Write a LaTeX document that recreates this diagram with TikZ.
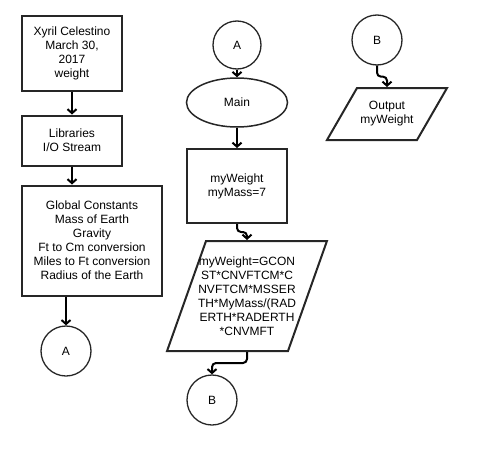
\documentclass[tikz,border=0pt]{standalone}
\usepackage{fontspec}
\setmainfont{Liberation Sans}
\usetikzlibrary{shapes.geometric}
\usetikzlibrary{arrows.meta}
\tikzset{
    procbox/.style = {rectangle, line width=2pt, draw=black!85, inner sep=0pt, align=center},
    conn/.style = {circle, line width=1.3pt, draw=black!85, inner sep=0pt, minimum size=50pt},
    termnode/.style = {ellipse, line width=1.5pt, draw=black!85, inner sep=0pt, minimum width=101pt, minimum height=49pt},
    iobox/.style = {trapezium, line width=2pt, draw=black!85, inner sep=0pt, text depth=0pt},
    edgen/.style = {-{Straight Barb[length=4pt,width=9pt]}, line width=2pt},
    edgew/.style = {edgen, rounded corners=4pt}, % wiggly connector
    txt/.style = {align=center, font=\fontsize{12}{14}\selectfont}
}
\begin{document}
\begin{tikzpicture}[x=1pt, y=-1pt, font=\fontsize{12}{14}\selectfont]
  \useasboundingbox (0,0) rectangle (501,450);

  % left column
  \node[procbox, minimum width=100pt, minimum height=75pt] at (72,53) (hdr)
    {Xyril Celestino\\March 30,\\2017\\weight};
  \node[procbox, minimum width=100pt, minimum height=50pt] at (72,140.5) (libs)
    {Libraries\\I/O Stream};
  \node[procbox, minimum width=140pt, minimum height=110pt] at (92,240.5) (globals)
    {Global Constants\\Mass of Earth\\Gravity\\Ft to Cm conversion\\Miles to Ft conversion\\Radius of the Earth};
  \node[conn] at (66,351) (conA) {A};

  % middle column
  \node[conn, minimum size=48pt] at (237,45) (conAin) {A};
  \node[termnode] at (237,102.5) (main) {Main};
  \node[procbox, minimum width=100pt, minimum height=74pt] at (237,186) (mass)
    {myWeight\\myMass=7};
  \node[iobox, trapezium left angle=70.5, trapezium right angle=109.5,
        text width=82pt, text height=110pt,
        label={[txt]center:myWeight=GCON\\ST*CNVFTCM*C\\NVFTCM*MSSER\\TH*MyMass/(RAD\\ERTH*RADERTH\\*CNVMFT}]
        at (247,296) (calc) {};
  \node[conn] at (212,400) (conB) {B};

  % right column
  \node[conn] at (377,40) (conBin) {B};
  \node[iobox, trapezium left angle=60, trapezium right angle=120,
        text width=60pt, text height=52pt,
        label={[txt]center:Output\\myWeight}]
        at (387,114) (outp) {};

  % connectors
  \draw[edgen] (hdr) -- (libs);
  \draw[edgen] (libs) -- (libs |- globals.north);
  \draw[edgen] (conA |- globals.south) -- (conA);
  \draw[edgen] (conAin) -- (main);
  \draw[edgen] (main) -- (mass);
  \draw[edgew] (mass.south) -- ++(0,8) -| (calc.center |- calc.north);
  \draw[edgew] (calc.center |- calc.south) -- ++(0,11) -| (conB.north);
  \draw[edgew] (conBin.south) -- ++(0,11) -| (outp.center |- outp.north);
\end{tikzpicture}
\end{document}
